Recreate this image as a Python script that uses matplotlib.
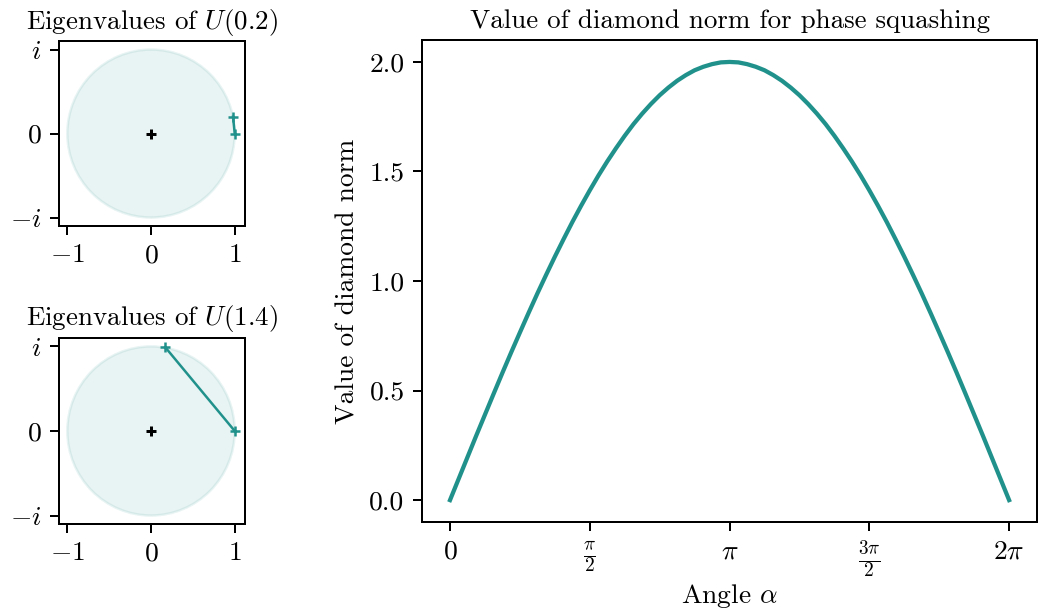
"""Eigenvalues of U(alpha) and diamond norm for phase squashing"""

import matplotlib
matplotlib.use('Agg')
import matplotlib.pyplot as plt
from matplotlib.patches import Circle
import numpy as np

plt.rcParams['font.family'] = 'serif'
plt.rcParams['font.serif'] = ['cmr10']
plt.rcParams['mathtext.fontset'] = 'cm'
plt.rcParams['axes.formatter.use_mathtext'] = True
plt.rcParams['font.size'] = 11
plt.rcParams['axes.titlesize'] = 10.8

TEAL = '#21918c'

eig_a_label = '0.2'
eig_a_re = [1.0, 0.98]
eig_a_im = [0.0, 0.20]
eig_b_label = '1.4'
eig_b_re = [1.0, 0.17]
eig_b_im = [0.0, 0.99]

# diamond norm curve, sampled every pi/32 from 0 to 2*pi
alpha_over_pi = [k / 32 for k in range(65)]
diamond_norm = [0.0, 0.098, 0.196, 0.294, 0.390, 0.486, 0.581, 0.674,
                0.765, 0.855, 0.943, 1.028, 1.111, 1.191, 1.269, 1.343,
                1.414, 1.482, 1.546, 1.606, 1.663, 1.716, 1.764, 1.808,
                1.848, 1.883, 1.914, 1.940, 1.962, 1.978, 1.990, 1.998,
                2.0,
                1.998, 1.990, 1.978, 1.962, 1.940, 1.914, 1.883, 1.848,
                1.808, 1.764, 1.716, 1.663, 1.606, 1.546, 1.482, 1.414,
                1.343, 1.269, 1.191, 1.111, 1.028, 0.943, 0.855, 0.765,
                0.674, 0.581, 0.486, 0.390, 0.294, 0.196, 0.098, 0.0]

xtick_labels = [r'$0$', r'$\frac{\pi}{2}$', r'$\pi$', r'$\frac{3\pi}{2}$', r'$2\pi$']
ytick_vals = [0.0, 0.5, 1.0, 1.5, 2.0]


def eig_panel(ax, re, im, label):
    ax.add_patch(Circle((0, 0), 1, color=TEAL, alpha=0.1))
    ax.plot([0], [0], '+', color='black', markersize=4, markeredgewidth=1.2)
    ax.plot(re, im, '+-', color=TEAL, lw=1.0, markersize=4, markeredgewidth=1.0)
    ax.set_xlim(-1.1, 1.12)
    ax.set_ylim(-1.1, 1.1)
    ax.set_xticks([-1, 0, 1])
    ax.set_xticklabels([r'$-1$', r'$0$', r'$1$'])
    ax.set_yticks([-1, 0, 1])
    ax.set_yticklabels([r'$-i$', r'$0$', r'$i$'])
    ax.set_title(f'Eigenvalues of $U({label})$', pad=5)


fig = plt.figure(figsize=(1038 / 180, 614 / 180), dpi=180)
ax1 = fig.add_axes([0.0568, 0.632, 0.179, 0.301])
ax2 = fig.add_axes([0.0568, 0.1466, 0.179, 0.303])
ax3 = fig.add_axes([0.4066, 0.1498, 0.5925, 0.785])

eig_panel(ax1, eig_a_re, eig_a_im, eig_a_label)
eig_panel(ax2, eig_b_re, eig_b_im, eig_b_label)

alpha = np.array(alpha_over_pi) * np.pi
ax3.plot(alpha, diamond_norm, color=TEAL, lw=1.7)
ax3.set_xticks(np.array([0, 0.5, 1, 1.5, 2]) * np.pi)
ax3.set_xticklabels(xtick_labels)
ax3.set_yticks(ytick_vals)
ax3.set_yticklabels([f'{v:.1f}' for v in ytick_vals])
ax3.set_xlabel(r'Angle $\alpha$', labelpad=0.5)
ax3.set_ylabel('Value of diamond norm')
ax3.set_title('Value of diamond norm for phase squashing', pad=5)

fig.savefig('out.png', dpi=180)
